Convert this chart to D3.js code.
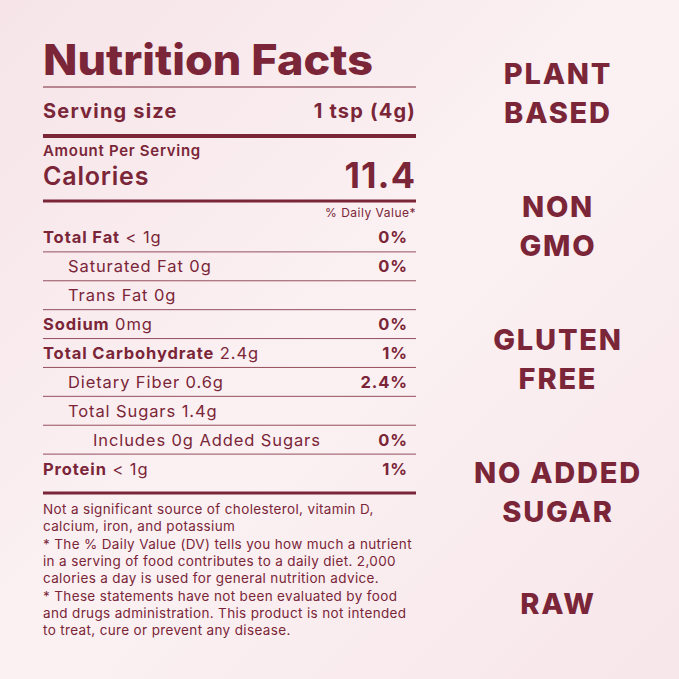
<!DOCTYPE html><html><head><meta charset="utf-8">
<script src="https://cdn.jsdelivr.net/npm/d3@7"></script>
<style>body{margin:0}svg{display:block}</style></head><body>
<script>
const rowLabels=["Total Fat","Saturated Fat","Trans Fat","Sodium","Total Carbohydrate","Dietary Fiber","Total Sugars","Includes 0g Added Sugars","Protein"];
const rowAmounts=["< 1g","0g","0g","0mg","2.4g","0.6g","1.4g","","< 1g"];
const rowDV=["0%","0%","","0%","1%","2.4%","","0%","1%"];
const rowBold=[true,false,false,true,true,false,false,false,true];
const rowIndent=[0,1,1,0,0,1,1,2,0];
const claims=[["PLANT","BASED"],["NON","GMO"],["GLUTEN","FREE"],["NO ADDED","SUGAR"],["RAW"]];
const footnotes=["Not a significant source of cholesterol, vitamin D,","calcium, iron, and potassium","* The % Daily Value (DV) tells you how much a nutrient","in a serving of food contributes to a daily diet. 2,000","calories a day is used for general nutrition advice.","* These statements have not been evaluated by food","and drugs administration. This product is not intended","to treat, cure or prevent any disease."];
const C="#7a2638",W=679,H=679;
const svg=d3.select("body").append("svg").attr("width",W).attr("height",H).style("font-family","Inter, 'Open Sans', sans-serif");
const g=svg.append("defs").append("linearGradient").attr("id","bg").attr("x1",0).attr("y1",0).attr("x2",1).attr("y2",1);
g.append("stop").attr("offset","0").attr("stop-color","#f6e4e8");
g.append("stop").attr("offset","0.5").attr("stop-color","#fbf1f3");
g.append("stop").attr("offset","1").attr("stop-color","#f7e6ea");
svg.append("rect").attr("width",W).attr("height",H).attr("fill","url(#bg)");
const L=43,R=416;
const line=(y,w)=>svg.append("line").attr("x1",L).attr("x2",R).attr("y1",y).attr("y2",y).attr("stroke",C).attr("stroke-width",w);
const txt=(x,y,s,size,wt,anchor,ls)=>svg.append("text").attr("x",x).attr("y",y).text(s).attr("fill",C).attr("font-size",size).attr("font-weight",wt).attr("text-anchor",anchor||"start").attr("letter-spacing",ls||0);
txt(L,75,"Nutrition Facts",42,800).attr("textLength",330).attr("lengthAdjust","spacingAndGlyphs");
line(87,1.2);
txt(L,118,"Serving size",20,700,"start",1.2);txt(R,118,"1 tsp (4g)",20,700,"end",1.2);
line(136,4);
txt(L,156,"Amount Per Serving",15,600,"start",0.7);
txt(L,185,"Calories",25,600,"start",0.8);txt(R,188,"11.4",36,700,"end",1);
line(201,3);
txt(R,217,"% Daily Value*",12,400,"end",0.5);
const y=d3.scaleBand().domain(d3.range(rowLabels.length)).range([223,483]);
rowLabels.forEach((lab,i)=>{
  const yy=y(i)+y.bandwidth()/2+6, x=L+rowIndent[i]*25;
  const t=svg.append("text").attr("x",x).attr("y",yy).attr("fill",C).attr("font-size",16.5).attr("letter-spacing",0.9);
  t.append("tspan").text(lab).attr("font-weight",rowBold[i]?700:400);
  if(rowAmounts[i])t.append("tspan").text(" "+rowAmounts[i]);
  if(rowDV[i])txt(R-8,yy,rowDV[i],16.5,700,"end",0.9);
  if(i>0)line(y(i),0.8);
});
line(493,3);
footnotes.forEach((f,i)=>txt(L,514+i*17.3,f,13.5,400,"start",0.35));
const cy=d3.scalePoint().domain(d3.range(claims.length)).range([92,624]);
claims.forEach((c,i)=>{
  if(c.length===1){txt(558,cy(i)-10,c[0],29,800,"middle",1.8);}
  else c.forEach((s,j)=>txt(558,cy(i)-8+j*39,s,29,800,"middle",1.8));
});
</script></body></html>
